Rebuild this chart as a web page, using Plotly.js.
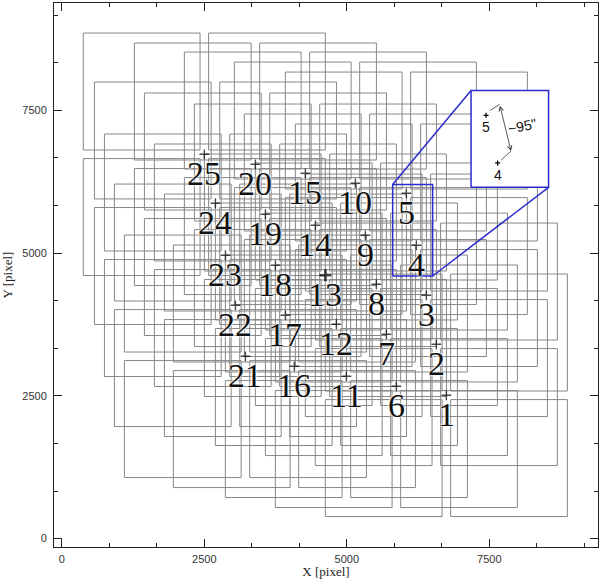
<!DOCTYPE html>
<html>
<head>
<meta charset="utf-8">
<script src="https://cdn.plot.ly/plotly-3.0.1.min.js"></script>
<style>
    html, body { margin: 0; padding: 0; background: #fff; }
    #chart { width: 600px; height: 579px; }
</style>
</head>
<body>
<div id="chart"></div>
<script>
// pointing centres (detector pixels)
const pointingIds = [1, 2, 3, 4, 5, 6, 7, 8, 9, 10, 11, 12, 13, 14, 15, 16, 17, 18, 19, 20, 21, 22, 23, 24, 25];
const pointingX = [6746, 6570, 6395, 6220, 6044, 5869, 5694, 5518, 5325, 5150, 4992, 4817, 4624, 4449, 4273,
                   4080, 3923, 3747, 3572, 3396, 3221, 3046, 2871, 2695, 2500];
const pointingY = [2509, 3402, 4260, 5136, 6046, 2667, 3577, 4453, 5311, 6221, 2842, 3753, 4611, 5486, 6396,
                   3017, 3910, 4786, 5679, 6554, 3192, 4085, 4961, 5872, 6729];

// zoom box around pointings 5 and 4, and the enlarged inset box
const zoomBoxX = [5804, 6505];
const zoomBoxY = [4598, 6199];
const insetBoxX = [7179, 8539];
const insetBoxY = [6151, 7845];

// schematic inside the inset
const insetLabels = ['5', '4'];
const insetX = [7442, 7645];
const insetY = [7412, 6577];
const arrowTop = [7680, 7604];
const arrowBottom = [7880, 6787];
const leaderX = [7517, 7680, null, 7880, 7705];
const leaderY = [7499, 7604, null, 6787, 6624];
const separationText = '~95"';
const separationPos = [8090, 7218];

const CHIP = 2048;   // chip size in pixels
const GAP = 150;     // gap between chips
const HIGHLIGHT_ID = 13;
const BLUE = '#2b2bcf';
const CHIP_GREY = 'rgb(135,135,135)';

function chipOutlines() {
    const xs = [], ys = [];
    const half = CHIP + GAP / 2;
    pointingX.forEach((cx, i) => {
        const cy = pointingY[i];
        [[cx - half, cx - GAP / 2], [cx + GAP / 2, cx + half]].forEach(([x0, x1]) => {
            [[cy - half, cy - GAP / 2], [cy + GAP / 2, cy + half]].forEach(([y0, y1]) => {
                xs.push(x0, x1, x1, x0, x0, null);
                ys.push(y0, y0, y1, y1, y0, null);
            });
        });
    });
    return { xs, ys };
}

const chips = chipOutlines();

const traces = [
    { x: chips.xs, y: chips.ys, mode: 'lines', line: { color: CHIP_GREY, width: 1 }, hoverinfo: 'skip' },
    // zoom box + connectors
    {
        x: [zoomBoxX[0], zoomBoxX[1], zoomBoxX[1], zoomBoxX[0], zoomBoxX[0], null,
            zoomBoxX[0], insetBoxX[0], null, zoomBoxX[1], insetBoxX[1]],
        y: [zoomBoxY[0], zoomBoxY[0], zoomBoxY[1], zoomBoxY[1], zoomBoxY[0], null,
            zoomBoxY[1], insetBoxY[1], null, zoomBoxY[0], insetBoxY[0]],
        mode: 'lines', line: { color: BLUE, width: 1.5 }, hoverinfo: 'skip'
    },
    // inset box, white filled
    {
        x: [insetBoxX[0], insetBoxX[1], insetBoxX[1], insetBoxX[0], insetBoxX[0]],
        y: [insetBoxY[0], insetBoxY[0], insetBoxY[1], insetBoxY[1], insetBoxY[0]],
        mode: 'lines', fill: 'toself', fillcolor: '#ffffff',
        line: { color: BLUE, width: 1.5 }, hoverinfo: 'skip'
    },
    // pointing markers
    {
        x: pointingX, y: pointingY, mode: 'markers', hoverinfo: 'skip',
        marker: {
            symbol: 'cross-thin',
            size: pointingIds.map(id => id === HIGHLIGHT_ID ? 8.5 : 7),
            line: { color: '#000', width: pointingIds.map(id => id === HIGHLIGHT_ID ? 2.6 : 1.4) }
        }
    },
    // inset markers and leader lines
    {
        x: insetX, y: insetY, mode: 'markers', hoverinfo: 'skip',
        marker: { symbol: 'cross-thin', size: 3.6, line: { color: '#000', width: 1.3 } }
    },
    { x: leaderX, y: leaderY, mode: 'lines', line: { color: '#333', width: 0.8 }, hoverinfo: 'skip' }
];

const numberAnnotations = pointingIds.map((id, i) => ({
    x: pointingX[i], y: pointingY[i], xref: 'x', yref: 'y',
    text: String(id), showarrow: false,
    xanchor: 'center', yanchor: 'top', yshift: 1,
    font: {
        family: 'Liberation Serif, serif', size: 34, color: '#111',
        shadow: '0 0 2px #fff, 0 0 2px #fff, 0 0 3px #fff'
    }
}));

const insetAnnotations = insetLabels.map((t, i) => ({
    x: insetX[i], y: insetY[i], xref: 'x', yref: 'y',
    text: t, showarrow: false, xanchor: 'center', yanchor: 'top', yshift: -2,
    font: { family: 'Liberation Sans, Arial, sans-serif', size: 14, color: '#111' }
}));

const arrowAnnotation = {
    x: arrowBottom[0], y: arrowBottom[1], ax: arrowTop[0], ay: arrowTop[1],
    xref: 'x', yref: 'y', axref: 'x', ayref: 'y', text: '',
    showarrow: true, arrowside: 'end+start', arrowhead: 5, startarrowhead: 5,
    arrowsize: 1.1, startarrowsize: 1.1, arrowwidth: 0.8, arrowcolor: '#333'
};

const separationAnnotation = {
    x: separationPos[0], y: separationPos[1], xref: 'x', yref: 'y',
    text: separationText, showarrow: false, textangle: -12,
    font: { family: 'Liberation Sans, Arial, sans-serif', size: 14, color: '#111' }
};

const axisCommon = {
    showgrid: false, zeroline: false,
    showline: true, linecolor: '#222', linewidth: 1, mirror: 'ticks',
    ticks: 'inside', ticklen: 8, tickwidth: 1, tickcolor: '#222',
    tick0: 0, dtick: 2500,
    tickfont: { family: 'Liberation Sans, Arial, sans-serif', size: 11, color: '#333' },
    minor: { ticks: 'inside', ticklen: 4, tickwidth: 1, tickcolor: '#222', tick0: 0, dtick: 2500 / 3, showgrid: false },
    fixedrange: true
};

const layout = {
    width: 600, height: 579,
    margin: { l: 54, r: 2, t: 3, b: 32 },
    paper_bgcolor: '#fff', plot_bgcolor: '#fff',
    showlegend: false, hovermode: false,
    xaxis: {
        ...axisCommon, range: [-137, 9406], ticklabelstandoff: 2,
        title: { text: 'X [pixel]', standoff: 2, font: { family: 'Liberation Serif, serif', size: 13, color: '#222' } }
    },
    yaxis: {
        ...axisCommon, range: [-147, 9378], ticklabelstandoff: 4,
        title: { text: 'Y [pixel]', standoff: 8, font: { family: 'Liberation Serif, serif', size: 13, color: '#222' } }
    },
    annotations: [...numberAnnotations, ...insetAnnotations, arrowAnnotation, separationAnnotation]
};

Plotly.newPlot('chart', traces, layout, { displayModeBar: false, staticPlot: true });
</script>
</body>
</html>
